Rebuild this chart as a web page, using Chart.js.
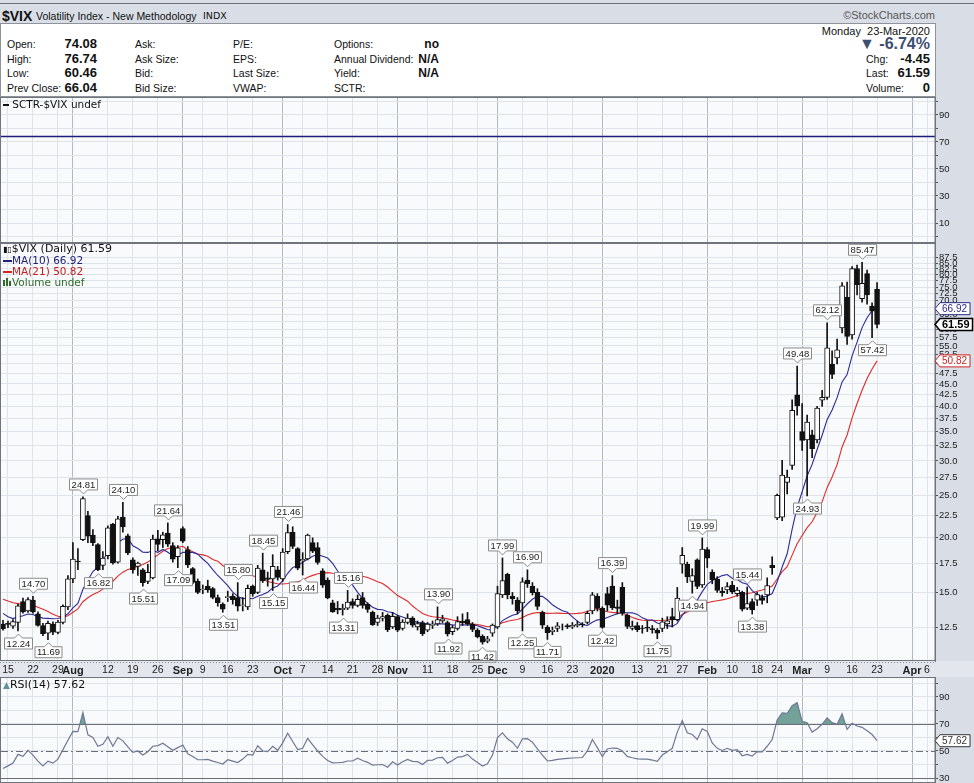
<!DOCTYPE html>
<html>
<head>
<meta charset="utf-8">
<title>$VIX Volatility Index - New Methodology</title>
<script src="https://cdn.jsdelivr.net/npm/chart.js@4.4.1/dist/chart.umd.min.js"></script>
<style>
  body { margin: 0; width: 974px; height: 783px; overflow: hidden; position: relative;
         background: #d9dee6; font-family: "Liberation Sans", Arial, sans-serif; color: #111; }
  canvas { position: absolute; left: 0; }
  .t { position: absolute; white-space: nowrap; line-height: 14px; font-size: 10.5px; }
  .b { font-size: 13px; font-weight: bold; }
  .leg { position: absolute; white-space: nowrap; font-family: "DejaVu Sans", sans-serif; font-size: 10.5px; line-height: 11px; }
  #topline { position: absolute; left: 0; top: 3px; width: 974px; height: 1px; background: #6b7079; }
  #info { position: absolute; left: 0; top: 23px; width: 936px; height: 74px; background: #fff;
          border: 1px solid #8d929b; box-sizing: border-box; }
</style>
</head>
<body>
<div id="topline"></div>
<div class="t" style="left:2px;top:8px;font-size:14px;font-weight:bold;line-height:16px">$VIX</div>
<div class="t" style="left:36px;top:9px;font-size:10.5px">Volatility Index - New Methodology</div>
<div class="t" style="left:203px;top:9px;font-family:'DejaVu Sans';font-size:9.5px">INDX</div>
<div class="t" style="right:39px;top:8px;font-size:11px;color:#555">&copy;StockCharts.com</div>

<div id="info"></div>
<div class="t" style="left:7px;top:37px">Open:</div>
<div class="t" style="left:7px;top:52px">High:</div>
<div class="t" style="left:7px;top:66px">Low:</div>
<div class="t" style="left:7px;top:81px">Prev Close:</div>
<div class="t b" style="right:877px;top:37px">74.08</div>
<div class="t b" style="right:877px;top:52px">76.74</div>
<div class="t b" style="right:877px;top:66px">60.46</div>
<div class="t b" style="right:877px;top:81px">66.04</div>
<div class="t" style="left:135px;top:37px">Ask:</div>
<div class="t" style="left:135px;top:52px">Ask Size:</div>
<div class="t" style="left:135px;top:66px">Bid:</div>
<div class="t" style="left:135px;top:81px">Bid Size:</div>
<div class="t" style="left:233px;top:37px">P/E:</div>
<div class="t" style="left:233px;top:52px">EPS:</div>
<div class="t" style="left:233px;top:66px">Last Size:</div>
<div class="t" style="left:233px;top:81px">VWAP:</div>
<div class="t" style="left:334px;top:37px">Options:</div>
<div class="t" style="left:334px;top:52px">Annual Dividend:</div>
<div class="t" style="left:334px;top:66px">Yield:</div>
<div class="t" style="left:334px;top:81px">SCTR:</div>
<div class="t b" style="right:535px;top:37px;font-size:12px">no</div>
<div class="t b" style="right:535px;top:52px;font-size:12px">N/A</div>
<div class="t b" style="right:535px;top:66px;font-size:12px">N/A</div>
<div class="t" style="right:44px;top:24px;font-size:11px">Monday&nbsp; 23-Mar-2020</div>
<div class="t" style="right:44px;top:36px;font-size:16px;line-height:16px;font-weight:bold;color:#3e4e73">&#9660; -6.74%</div>
<div class="t" style="left:866px;top:52px">Chg:</div>
<div class="t b" style="right:44px;top:52px">-4.45</div>
<div class="t" style="left:866px;top:66px">Last:</div>
<div class="t b" style="right:44px;top:66px">61.59</div>
<div class="t" style="left:866px;top:81px">Volume:</div>
<div class="t b" style="right:44px;top:81px">0</div>

<canvas id="sctr" width="974" height="146" style="top:97px"></canvas>
<canvas id="main" width="974" height="434" style="top:243px"></canvas>
<canvas id="rsi" width="974" height="106" style="top:677px"></canvas>

<div class="leg" style="left:3px;top:99px"><span style="display:inline-block;width:6px;height:2px;background:#111;vertical-align:middle"></span> SCTR-$VIX undef</div>
<div class="leg" style="left:3px;top:243px;font-size:11px;line-height:12px"><span style="font-size:8px">&#9646;&#9647;</span>$VIX (Daily) 61.59</div>
<div class="leg" style="left:3px;top:255px;color:#22227a"><span style="display:inline-block;width:9px;height:2px;background:#22227a;vertical-align:middle"></span>MA(10) 66.92</div>
<div class="leg" style="left:3px;top:266px;color:#c42020"><span style="display:inline-block;width:9px;height:2px;background:#d42424;vertical-align:middle"></span>MA(21) 50.82</div>
<div class="leg" style="left:3px;top:277px;color:#2f6b2a"><span style="display:inline-block;width:2px;height:6px;background:#2f6b2a;margin-right:1px"></span><span style="display:inline-block;width:2px;height:8px;background:#2f6b2a;margin-right:1px"></span><span style="display:inline-block;width:2px;height:5px;background:#2f6b2a;margin-right:1px"></span>Volume undef</div>
<div class="leg" style="left:3px;top:679px;font-size:11px;line-height:12px"><span style="color:#5f8fa0;font-size:9px">&#9650;</span>RSI(14) 57.62</div>

<script>
// trading days shown on the chart (day numbers per month)
const tradingDays = [
  ['2019-07', [12, 15, 16, 17, 18, 19, 22, 23, 24, 25, 26, 29, 30, 31]],
  ['2019-08', [1, 2, 5, 6, 7, 8, 9, 12, 13, 14, 15, 16, 19, 20, 21, 22, 23, 26, 27, 28, 29, 30]],
  ['2019-09', [3, 4, 5, 6, 9, 10, 11, 12, 13, 16, 17, 18, 19, 20, 23, 24, 25, 26, 27, 30]],
  ['2019-10', [1, 2, 3, 4, 7, 8, 9, 10, 11, 14, 15, 16, 17, 18, 21, 22, 23, 24, 25, 28, 29, 30, 31]],
  ['2019-11', [1, 4, 5, 6, 7, 8, 11, 12, 13, 14, 15, 18, 19, 20, 21, 22, 25, 26, 27, 29]],
  ['2019-12', [2, 3, 4, 5, 6, 9, 10, 11, 12, 13, 16, 17, 18, 19, 20, 23, 24, 26, 27, 30, 31]],
  ['2020-01', [2, 3, 6, 7, 8, 9, 10, 13, 14, 15, 16, 17, 21, 22, 23, 24, 27, 28, 29, 30, 31]],
  ['2020-02', [3, 4, 5, 6, 7, 10, 11, 12, 13, 14, 18, 19, 20, 21, 24, 25, 26, 27, 28]],
  ['2020-03', [2, 3, 4, 5, 6, 9, 10, 11, 12, 13, 16, 17, 18, 19, 20, 23]],
];
const dates = [];
tradingDays.forEach(([month, days]) => days.forEach((d) => dates.push(month + '-' + String(d).padStart(2, '0'))));

const opens = [
  12.70, 12.75, 12.55, 12.80, 14.30, 13.60, 14.40, 13.40, 12.60, 12.10,
  12.70, 12.15, 12.80, 13.90, 16.10, 17.70, 19.80, 22.50, 20.30, 19.30,
  17.30, 18.20, 21.50, 17.60, 22.30, 20.20, 17.80, 17.20, 16.90, 15.90,
  16.20, 19.90, 19.80, 20.50, 19.20, 18.10, 21.00, 18.80, 17.00, 15.90,
  15.20, 15.50, 15.30, 14.60, 14.10, 14.60, 14.70, 14.60, 14.00, 13.90,
  15.50, 15.00, 16.90, 16.20, 16.10, 16.90, 16.10, 18.60, 20.60, 18.90,
  17.70, 17.90, 19.50, 19.00, 16.80, 16.00, 14.20, 13.80, 13.70, 13.80,
  14.30, 14.00, 14.60, 14.10, 13.50, 12.80, 13.10, 13.30, 12.50, 13.20,
  12.40, 12.80, 13.10, 12.50, 12.80, 12.30, 12.60, 12.70, 12.90, 12.80,
  12.20, 12.40, 12.90, 13.00, 12.70, 12.30, 11.90, 11.60, 12.10, 12.50,
  14.80, 16.50, 14.70, 14.40, 14.20, 16.00, 15.50, 15.00, 13.50, 12.50,
  12.20, 12.40, 12.50, 12.60, 12.50, 12.60, 12.70, 12.80, 13.60, 14.70,
  13.80, 14.90, 15.50, 13.90, 15.40, 13.30, 12.40, 12.60, 12.40, 12.50,
  12.40, 12.30, 12.40, 12.70, 13.20, 13.00, 17.40, 17.40, 15.90, 17.80,
  15.60, 18.80, 16.70, 16.10, 15.10, 15.20, 15.60, 14.90, 15.00, 13.80,
  14.30, 14.40, 14.60, 14.80, 17.30, 22.20, 22.30, 26.80, 29.30, 42.50,
  35.00, 33.50, 34.40, 33.50, 41.30, 41.90, 49.90, 51.60, 60.50, 71.00,
  58.30, 82.70, 70.50, 80.50, 67.80, 74.08,
];
const highs = [
  12.95, 12.90, 13.00, 14.10, 14.55, 14.60, 14.70, 13.55, 12.75, 12.90,
  12.85, 12.95, 14.05, 16.40, 19.50, 18.90, 24.81, 23.00, 20.90, 19.40,
  18.60, 21.30, 21.60, 22.40, 24.10, 20.40, 18.00, 17.60, 17.00, 17.40,
  20.30, 20.80, 20.60, 21.64, 19.50, 19.20, 21.20, 19.10, 17.10, 16.10,
  15.60, 16.00, 15.40, 14.80, 14.20, 15.10, 14.90, 15.80, 14.60, 15.60,
  15.60, 17.30, 18.45, 16.70, 18.30, 17.20, 18.90, 21.46, 21.20, 19.00,
  18.50, 20.40, 20.00, 19.50, 17.00, 16.20, 14.40, 14.30, 14.10, 15.16,
  14.50, 14.80, 15.00, 14.20, 13.60, 13.30, 13.50, 13.40, 13.50, 13.30,
  13.00, 13.40, 13.20, 12.90, 12.90, 12.80, 12.90, 13.90, 13.30, 12.90,
  12.60, 13.20, 13.40, 13.50, 12.80, 12.40, 12.00, 11.90, 12.70, 15.50,
  17.99, 16.60, 15.00, 14.60, 16.20, 16.90, 15.80, 15.30, 13.60, 12.60,
  12.50, 12.80, 12.70, 12.70, 12.80, 12.90, 12.80, 13.60, 15.00, 14.90,
  13.90, 15.40, 16.39, 14.40, 15.80, 13.40, 12.90, 12.80, 12.60, 12.90,
  12.60, 12.40, 13.10, 13.20, 13.80, 15.40, 19.00, 17.60, 17.00, 17.90,
  19.99, 19.00, 16.90, 16.30, 15.40, 15.80, 15.90, 15.40, 15.10, 15.44,
  14.50, 15.00, 14.80, 16.20, 18.10, 25.20, 30.10, 28.60, 41.40, 49.48,
  40.60, 38.20, 35.30, 40.00, 43.50, 62.12, 53.60, 57.00, 76.80, 77.00,
  83.56, 84.20, 85.47, 82.00, 69.00, 76.74,
];
const lows = [
  12.30, 12.45, 12.40, 12.24, 13.45, 13.50, 13.45, 12.55, 11.95, 11.69,
  12.00, 12.05, 12.70, 13.70, 15.80, 16.90, 19.70, 19.50, 19.20, 16.82,
  16.90, 17.90, 17.40, 17.50, 20.60, 18.30, 16.60, 16.40, 15.51, 15.70,
  16.10, 18.70, 19.00, 19.10, 17.60, 17.09, 19.50, 17.10, 15.70, 14.90,
  14.90, 15.00, 14.50, 13.95, 13.51, 14.30, 14.10, 13.60, 13.60, 13.70,
  14.70, 14.90, 15.80, 15.50, 15.15, 16.00, 15.90, 18.40, 18.90, 16.90,
  16.44, 17.80, 18.50, 17.40, 15.40, 14.50, 13.50, 13.40, 13.31, 13.70,
  13.80, 13.90, 13.80, 13.50, 12.60, 12.60, 12.90, 12.20, 12.40, 12.20,
  12.30, 12.70, 12.50, 12.30, 11.95, 12.20, 12.40, 12.60, 12.80, 11.92,
  12.00, 12.30, 12.60, 12.60, 12.20, 11.80, 11.42, 11.50, 11.90, 12.40,
  14.60, 14.50, 14.10, 13.40, 12.25, 15.40, 14.80, 13.70, 12.40, 11.71,
  12.00, 12.20, 12.30, 12.40, 12.40, 12.50, 12.50, 12.70, 13.40, 13.60,
  12.42, 13.60, 13.70, 13.40, 13.30, 12.40, 12.30, 12.20, 12.10, 12.20,
  12.10, 11.75, 12.20, 12.40, 12.50, 12.90, 16.60, 15.80, 14.94, 15.30,
  15.40, 17.10, 15.70, 15.00, 14.70, 14.90, 14.90, 14.70, 13.60, 13.70,
  13.38, 14.00, 14.10, 14.20, 16.50, 22.00, 21.90, 25.20, 28.70, 38.20,
  31.70, 24.93, 30.50, 33.00, 40.00, 41.50, 46.30, 50.00, 58.90, 55.40,
  57.00, 72.00, 69.30, 68.50, 57.42, 60.46,
];
const closes = [
  12.39, 12.68, 12.86, 13.97, 13.53, 14.45, 13.53, 12.61, 12.07, 12.74,
  12.16, 12.83, 13.94, 16.12, 17.87, 17.61, 24.59, 20.17, 19.49, 16.91,
  17.97, 21.09, 17.52, 22.10, 21.18, 18.47, 16.88, 17.50, 15.80, 16.68,
  19.87, 19.32, 20.31, 19.35, 17.88, 18.98, 19.66, 17.33, 15.82, 15.00,
  15.27, 15.20, 14.61, 14.22, 13.74, 14.67, 14.44, 13.95, 14.05, 15.32,
  14.91, 17.05, 15.96, 16.07, 17.22, 16.24, 18.56, 20.56, 19.12, 17.04,
  17.86, 20.28, 18.64, 17.57, 15.58, 14.57, 13.54, 13.68, 13.79, 14.25,
  14.00, 14.46, 14.01, 13.71, 12.65, 13.11, 13.20, 12.33, 13.22, 12.30,
  12.83, 13.10, 12.62, 12.73, 12.07, 12.69, 12.68, 13.00, 13.05, 12.05,
  12.46, 12.86, 12.78, 12.69, 12.34, 11.87, 11.54, 11.75, 12.62, 14.91,
  15.96, 14.80, 14.52, 13.62, 15.86, 15.68, 14.99, 13.94, 12.63, 12.14,
  12.29, 12.58, 12.50, 12.51, 12.61, 12.67, 12.65, 13.43, 14.82, 13.78,
  12.47, 14.02, 13.85, 13.79, 13.45, 12.54, 12.56, 12.32, 12.39, 12.42,
  12.32, 12.10, 12.85, 12.91, 12.98, 14.56, 18.23, 16.28, 16.39, 15.49,
  18.84, 17.97, 16.05, 15.15, 14.96, 15.47, 15.04, 15.18, 13.74, 14.15,
  13.68, 14.83, 14.38, 15.56, 17.08, 25.03, 27.85, 27.56, 39.16, 40.11,
  33.42, 36.82, 31.99, 39.62, 41.94, 54.46, 47.30, 53.90, 75.47, 57.83,
  82.69, 75.91, 76.45, 72.00, 66.04, 61.59,
];
// closes of the 20 sessions before the first visible day, needed by the moving averages
const priorCloses = [
  15.80, 15.30, 15.35, 15.15, 14.33, 14.75, 15.40, 15.26, 16.28, 16.21,
  15.82, 15.08, 14.06, 12.93, 12.57, 13.28, 13.96, 14.09, 13.03, 12.93,
];
const rsiValues = [
  37.0, 39.0, 41.0, 47.5, 46.0, 50.5, 47.0, 42.5, 39.0, 42.5,
  41.0, 44.0, 51.0, 58.0, 64.5, 64.3, 78.4, 62.0, 60.0, 53.5,
  55.0, 60.6, 53.5, 60.0, 57.5, 53.0, 49.0, 50.0, 47.0, 49.5,
  53.5, 54.0, 55.7, 53.2, 50.5, 52.5, 54.4, 48.0, 46.0, 43.5,
  43.5, 43.8, 42.5, 41.5, 40.4, 43.5, 42.5, 41.5, 44.0, 47.5,
  47.0, 53.9, 50.0, 49.5, 53.5, 50.5, 56.0, 63.1, 57.0, 51.0,
  52.0, 59.4, 54.5, 50.0, 46.0, 43.0, 41.2, 41.3, 41.6, 42.6,
  42.6, 44.6, 43.0, 41.6, 39.6, 39.8, 40.0, 38.0, 42.0, 39.6,
  42.0, 43.8, 42.3, 42.1, 40.0, 43.0, 43.3, 45.0, 45.3, 41.0,
  43.0, 45.5, 45.8, 47.5, 44.0, 41.5, 38.9, 40.5, 47.0, 59.9,
  63.5, 59.0, 56.5, 52.0, 59.0, 59.2, 56.5, 51.5, 47.0, 42.6,
  43.0, 43.8, 44.2, 44.5, 44.8, 45.0, 45.2, 50.0, 58.5, 52.5,
  45.8, 51.5, 52.2, 52.0, 50.0, 46.0, 45.0, 44.2, 44.0, 44.0,
  43.3, 42.3, 47.0, 49.5, 52.0, 64.0, 72.5, 63.5, 62.2, 58.5,
  66.5, 64.5, 56.0, 52.0, 50.4, 52.0, 50.5, 51.0, 46.5, 47.5,
  46.2, 49.5, 49.3, 53.5, 58.5, 73.0, 78.2, 77.8, 83.5, 85.8,
  72.0, 71.0, 64.0, 66.5, 69.8, 74.5, 71.0, 69.8, 77.5, 66.0,
  70.5, 68.5, 67.5, 65.0, 62.2, 57.62,
];
const sctrLevel = 74.5;

// labelled highs / lows
const calloutIdx = [3, 6, 9, 16, 19, 24, 28, 33, 35, 44, 47, 52, 54, 57, 60, 68, 69, 87, 89, 96,
  100, 104, 105, 109, 120, 122, 131, 138, 140, 149, 150, 159, 161, 165, 172, 174];
const calloutVal = [12.24, 14.70, 11.69, 24.81, 16.82, 24.10, 15.51, 21.64, 17.09, 13.51, 15.80, 18.45,
  15.15, 21.46, 16.44, 13.31, 15.16, 13.90, 11.92, 11.42, 17.99, 12.25, 16.90, 11.71, 12.42, 16.39,
  11.75, 14.94, 19.99, 15.44, 13.38, 49.48, 24.93, 62.12, 85.47, 57.42];

// date axis labels
const tickIdx = [1, 6, 11, 14, 21, 26, 31, 36, 40, 45, 50, 56, 60, 65, 70, 75, 79, 85, 90, 95,
  99, 104, 109, 114, 120, 127, 132, 136, 141, 146, 151, 155, 160, 165, 170, 175, 182, 185];
const tickText = ['15', '22', '29', 'Aug', '12', '19', '26', 'Sep', '9', '16', '23', 'Oct', '7', '14', '21', '28',
  'Nov', '11', '18', '25', 'Dec', '9', '16', '23', '2020', '13', '21', '27', 'Feb', '10', '18', '24', 'Mar',
  '9', '16', '23', 'Apr', '6'];
const priceTicks = [12.5, 15, 17.5, 20, 22.5, 25, 27.5, 30, 32.5, 35, 37.5, 40, 42.5, 45, 47.5, 50, 52.5,
  55, 57.5, 60, 62.5, 65, 67.5, 70, 72.5, 75, 77.5, 80, 82.5, 85, 87.5];

const X_MIN = -0.4;
const X_MAX = 186.6;
const AXIS_W = 39;
const GRID = '#dfe3ea';
const GRID_MAJOR = '#b3b9c3';
const PLOT_BG = '#f9fafc';
const FONT = '"Liberation Sans", Arial, sans-serif';

Chart.defaults.font.family = FONT;
Chart.defaults.color = '#222';

function movingAverage(n) {
  const all = priorCloses.concat(closes);
  return closes.map((c, i) => {
    const end = i + priorCloses.length;
    let sum = 0;
    for (let k = end - n + 1; k <= end; k++) sum += all[k];
    return +(sum / n).toFixed(2);
  });
}
const ma10 = movingAverage(10);
const ma21 = movingAverage(21);

function isMajor(v) {
  const label = tickText[tickIdx.indexOf(v)];
  return label !== undefined && (isNaN(+label) || label === '2020');
}

function noPadding(scale) {
  scale.paddingTop = 0;
  scale.paddingBottom = 0;
  scale.paddingLeft = 0;
  scale.paddingRight = 0;
}

function dateAxis(showLabels) {
  return {
    type: 'linear',
    min: X_MIN,
    max: X_MAX,
    offset: false,
    afterBuildTicks: (scale) => {
      scale.ticks = tickIdx.map((v) => ({ value: v, major: isMajor(v) }));
    },
    afterFit: (scale) => {
      scale.height = showLabels ? 16 : 0;
      noPadding(scale);
    },
    grid: {
      offset: false,
      drawTicks: false,
      color: (ctx) => (ctx.tick && ctx.tick.major ? GRID_MAJOR : GRID),
    },
    border: { display: false },
    ticks: {
      display: showLabels,
      autoSkip: false,
      maxRotation: 0,
      padding: 3,
      color: '#222',
      font: (ctx) => (ctx.tick && ctx.tick.major ? { size: 11, weight: 'bold' } : { size: 10.5 }),
      callback: (v) => tickText[tickIdx.indexOf(v)],
    },
  };
}

function valueAxis(extra) {
  return Object.assign({
    position: 'right',
    afterFit: (scale) => {
      scale.width = AXIS_W;
      noPadding(scale);
    },
    grid: { color: GRID, tickLength: 3, tickColor: '#555' },
    border: { display: true, color: '#707580' },
  }, extra);
}

const panelPlugin = {
  id: 'panel',
  beforeDraw(chart) {
    const { ctx, chartArea: a } = chart;
    ctx.save();
    ctx.fillStyle = PLOT_BG;
    ctx.fillRect(a.left, a.top, a.right - a.left, a.bottom - a.top);
    ctx.restore();
  },
  afterDraw(chart) {
    const { ctx, chartArea: a } = chart;
    ctx.save();
    ctx.strokeStyle = '#6f747d';
    ctx.lineWidth = 1;
    ctx.strokeRect(a.left - 0.5, a.top + 0.5, a.right - a.left + 0.5, a.bottom - a.top - 1);
    ctx.restore();
  },
};

function axisTag(chart, value, text, color, bold) {
  const { ctx } = chart;
  const y = chart.scales.y.getPixelForValue(value);
  const x = chart.chartArea.right;
  ctx.save();
  ctx.font = (bold ? 'bold 11px ' : '10px ') + FONT;
  const w = ctx.measureText(text).width + 5;
  const h = 12;
  ctx.beginPath();
  ctx.moveTo(x, y);
  ctx.lineTo(x + 5, y - h / 2);
  ctx.lineTo(x + 5 + w, y - h / 2);
  ctx.lineTo(x + 5 + w, y + h / 2);
  ctx.lineTo(x + 5, y + h / 2);
  ctx.closePath();
  ctx.fillStyle = '#fff';
  ctx.fill();
  ctx.lineWidth = bold ? 1.5 : 1;
  ctx.strokeStyle = color;
  ctx.stroke();
  ctx.fillStyle = color;
  ctx.textBaseline = 'middle';
  ctx.fillText(text, x + 7, y + 0.5);
  ctx.restore();
}

const calloutPlugin = {
  id: 'callouts',
  afterDatasetsDraw(chart) {
    const { ctx } = chart;
    const xs = chart.scales.x;
    const ys = chart.scales.y;
    ctx.save();
    ctx.font = '9.5px ' + FONT;
    ctx.textAlign = 'center';
    ctx.textBaseline = 'middle';
    calloutIdx.forEach((idx, n) => {
      const val = calloutVal[n];
      const above = val === highs[idx];
      const x = Math.round(xs.getPixelForValue(idx)) + 0.5;
      const py = ys.getPixelForValue(val);
      const text = val.toFixed(2);
      const w = Math.round(ctx.measureText(text).width) + 4;
      const h = 11;
      const dir = above ? -1 : 1;
      const tip = py + dir * 3;
      const base = tip + dir * 4;
      const far = base + dir * h;
      ctx.beginPath();
      ctx.moveTo(x, tip);
      ctx.lineTo(x + 4, base);
      ctx.lineTo(x + w / 2, base);
      ctx.lineTo(x + w / 2, far);
      ctx.lineTo(x - w / 2, far);
      ctx.lineTo(x - w / 2, base);
      ctx.lineTo(x - 4, base);
      ctx.closePath();
      ctx.fillStyle = '#fff';
      ctx.fill();
      ctx.strokeStyle = '#8a8a8a';
      ctx.lineWidth = 1;
      ctx.stroke();
      ctx.fillStyle = '#222';
      ctx.fillText(text, x, (base + far) / 2 + 0.5);
    });
    ctx.restore();
  },
  afterDraw(chart) {
    const last = closes.length - 1;
    axisTag(chart, ma10[last], ma10[last].toFixed(2), '#2a2a8a', false);
    axisTag(chart, ma21[last], ma21[last].toFixed(2), '#cc2222', false);
    axisTag(chart, closes[last], closes[last].toFixed(2), '#000', true);
  },
};

const tickFont = { size: 9.5 };

// SCTR panel
new Chart(document.getElementById('sctr'), {
  type: 'line',
  data: { datasets: [] },
  options: {
    responsive: false,
    animation: false,
    devicePixelRatio: 1,
    layout: { padding: { left: 1 } },
    plugins: { legend: { display: false }, tooltip: { enabled: false } },
    scales: {
      x: dateAxis(false),
      y: valueAxis({
        type: 'linear',
        min: -4.8,
        max: 103.3,
        afterBuildTicks: (scale) => {
          scale.ticks = [0, 10, 20, 30, 40, 50, 60, 70, 80, 90, 100].map((v) => ({ value: v }));
        },
        ticks: { padding: 1, color: '#222', font: tickFont, autoSkip: false,
          callback: (v) => (v % 20 === 10 ? String(v) : '') },
      }),
    },
  },
  plugins: [panelPlugin, {
    id: 'sctrLine',
    afterDatasetsDraw(chart) {
      const { ctx, chartArea: a } = chart;
      const y = Math.round(chart.scales.y.getPixelForValue(sctrLevel)) + 0.5;
      ctx.save();
      ctx.strokeStyle = '#1c1c7a';
      ctx.lineWidth = 1.5;
      ctx.beginPath();
      ctx.moveTo(a.left, y);
      ctx.lineTo(a.right, y);
      ctx.stroke();
      ctx.restore();
    },
  }],
});

// price panel
new Chart(document.getElementById('main'), {
  type: 'bar',
  data: {
    datasets: [
      {
        type: 'line',
        label: 'MA(21)',
        data: ma21.map((v, i) => ({ x: i, y: v })),
        borderColor: '#e02a2a',
        borderWidth: 1.1,
        pointRadius: 0,
        tension: 0,
        order: 3,
      },
      {
        type: 'line',
        label: 'MA(10)',
        data: ma10.map((v, i) => ({ x: i, y: v })),
        borderColor: '#2a2a9a',
        borderWidth: 1.1,
        pointRadius: 0,
        tension: 0,
        order: 2,
      },
      {
        label: 'range',
        data: dates.map((d, i) => ({ x: i, y: [lows[i], highs[i]] })),
        backgroundColor: '#111',
        borderWidth: 0,
        barThickness: 1,
        grouped: false,
        order: 1,
      },
      {
        label: '$VIX',
        data: dates.map((d, i) => ({ x: i, y: [Math.min(opens[i], closes[i]), Math.max(opens[i], closes[i])] })),
        backgroundColor: closes.map((c, i) => (c >= opens[i] ? '#ffffff' : '#111111')),
        borderColor: '#111',
        borderWidth: 1,
        borderSkipped: false,
        barThickness: 5,
        grouped: false,
        order: 0,
      },
    ],
  },
  options: {
    responsive: false,
    animation: false,
    devicePixelRatio: 1,
    layout: { padding: { left: 1 } },
    plugins: { legend: { display: false }, tooltip: { enabled: false } },
    scales: {
      x: dateAxis(true),
      y: valueAxis({
        type: 'logarithmic',
        min: 10.45,
        max: 94.6,
        afterBuildTicks: (scale) => {
          scale.ticks = priceTicks.map((v) => ({ value: v }));
        },
        ticks: { padding: 1, color: '#222', font: tickFont, autoSkip: false,
          callback: (v) => Number(v).toFixed(1) },
      }),
    },
  },
  plugins: [panelPlugin, calloutPlugin, {
    id: 'labelStrip',
    beforeDraw(chart) {
      const { ctx, chartArea: a } = chart;
      ctx.save();
      ctx.fillStyle = '#e3e6ec';
      ctx.fillRect(0, a.bottom, chart.width, chart.height - a.bottom);
      ctx.strokeStyle = '#8a8f98';
      ctx.setLineDash([1, 2]);
      ctx.beginPath();
      ctx.moveTo(0, a.bottom + 1.5);
      ctx.lineTo(a.right, a.bottom + 1.5);
      ctx.stroke();
      ctx.restore();
    },
  }],
});

// RSI panel
new Chart(document.getElementById('rsi'), {
  type: 'line',
  data: {
    datasets: [{
      label: 'RSI(14)',
      data: rsiValues.map((v, i) => ({ x: i, y: v })),
      borderColor: '#6e7894',
      borderWidth: 1.2,
      pointRadius: 0,
      tension: 0,
      fill: { target: { value: 70 }, above: 'rgba(92,146,134,0.85)', below: 'rgba(0,0,0,0)' },
    }],
  },
  options: {
    responsive: false,
    animation: false,
    devicePixelRatio: 1,
    layout: { padding: { left: 1 } },
    plugins: { legend: { display: false }, tooltip: { enabled: false } },
    scales: {
      x: dateAxis(false),
      y: valueAxis({
        type: 'linear',
        min: 26.3,
        max: 104.8,
        afterBuildTicks: (scale) => {
          scale.ticks = [30, 40, 50, 60, 70, 80, 90, 100].map((v) => ({ value: v }));
        },
        ticks: { padding: 1, color: '#222', font: tickFont, autoSkip: false,
          callback: (v) => (v % 20 === 10 ? String(v) : '') },
      }),
    },
  },
  plugins: [panelPlugin, {
    id: 'rsiLevels',
    beforeDatasetsDraw(chart) {
      const { ctx, chartArea: a } = chart;
      const ys = chart.scales.y;
      ctx.save();
      ctx.strokeStyle = '#6a6e76';
      ctx.lineWidth = 1;
      [70, 30].forEach((v) => {
        const y = Math.round(ys.getPixelForValue(v)) + 0.5;
        ctx.beginPath();
        ctx.moveTo(a.left, y);
        ctx.lineTo(a.right, y);
        ctx.stroke();
      });
      const y50 = Math.round(ys.getPixelForValue(50)) + 0.5;
      ctx.setLineDash([7, 3, 2, 3]);
      ctx.beginPath();
      ctx.moveTo(a.left, y50);
      ctx.lineTo(a.right, y50);
      ctx.stroke();
      ctx.restore();
    },
    afterDraw(chart) {
      const last = rsiValues.length - 1;
      axisTag(chart, rsiValues[last], rsiValues[last].toFixed(2), '#333', false);
    },
  }],
});
</script>
</body>
</html>
